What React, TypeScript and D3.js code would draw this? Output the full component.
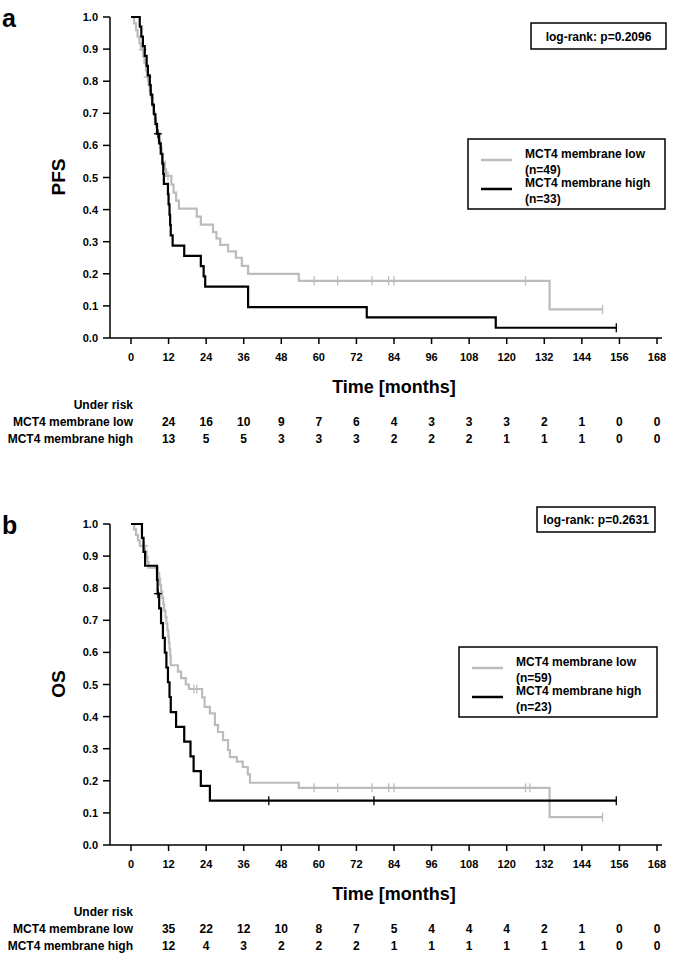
import React from "react";
import * as d3 from "d3";

// ---------- data ----------
const xTicks = [0, 12, 24, 36, 48, 60, 72, 84, 96, 108, 120, 132, 144, 156, 168];
const yTicks = [0, 0.1, 0.2, 0.3, 0.4, 0.5, 0.6, 0.7, 0.8, 0.9, 1.0];
const riskTimes = [12, 24, 36, 48, 60, 72, 84, 96, 108, 120, 132, 144, 156, 168];

// PFS (panel a)
const pfsLowSteps: [number, number][] = [
  [0, 1], [1.0, 0.98], [1.6, 0.959], [2.1, 0.939], [2.7, 0.918], [3.2, 0.898], [3.9, 0.877],
  [4.3, 0.856], [4.8, 0.834], [5.2, 0.813], [5.6, 0.791], [6.0, 0.769], [6.4, 0.747],
  [6.8, 0.725], [7.2, 0.703], [7.6, 0.681], [8.0, 0.659], [8.4, 0.637], [8.8, 0.615],
  [9.3, 0.593], [9.8, 0.571], [10.2, 0.549], [10.8, 0.527], [11.2, 0.505], [12.9, 0.478],
  [13.6, 0.453], [14.4, 0.428], [15.3, 0.403], [21.0, 0.378], [22.3, 0.353], [26.2, 0.33],
  [27.3, 0.31], [28.5, 0.29], [31.0, 0.27], [33.5, 0.25], [35.4, 0.225], [37.4, 0.2],
  [53.6, 0.178], [133.7, 0.089],
];
const pfsLowCensor = [3.8, 5.3, 11.8, 58.5, 66, 77, 82.3, 84, 126, 150.6];
const pfsHighSteps: [number, number][] = [
  [0, 1], [2.8, 0.97], [3.3, 0.939], [3.8, 0.909], [4.4, 0.879], [5.0, 0.848], [5.4, 0.818],
  [6.0, 0.788], [6.3, 0.758], [6.8, 0.727], [7.3, 0.697], [7.8, 0.667], [8.3, 0.636],
  [9.0, 0.606], [9.5, 0.574], [10.0, 0.543], [10.3, 0.511], [10.5, 0.48], [11.8, 0.448],
  [12.0, 0.416], [12.3, 0.384], [12.5, 0.352], [12.7, 0.32], [13.3, 0.288], [17.0, 0.256],
  [22.3, 0.224], [23.2, 0.192], [23.7, 0.16], [37.4, 0.096], [75.3, 0.064], [116.5, 0.032],
];
const pfsHighCensor = [8.6, 155];

// OS (panel b)
const osLowSteps: [number, number][] = [
  [0, 1], [1.0, 0.983], [1.6, 0.966], [2.2, 0.949], [2.8, 0.932], [4.5, 0.915], [5.0, 0.898],
  [5.3, 0.881], [5.6, 0.864], [8.6, 0.847], [9.0, 0.83], [9.3, 0.81], [9.6, 0.79], [10.0, 0.77],
  [10.3, 0.75], [10.6, 0.73], [11.0, 0.71], [11.3, 0.69], [11.6, 0.67], [11.9, 0.65],
  [12.1, 0.63], [12.3, 0.61], [12.5, 0.59], [12.7, 0.56], [15.0, 0.54], [16.0, 0.52],
  [17.5, 0.5], [18.5, 0.486], [22.7, 0.46], [23.5, 0.43], [25.2, 0.41], [26.8, 0.374],
  [27.8, 0.352], [29.4, 0.327], [31.0, 0.296], [31.6, 0.274], [33.8, 0.26], [35.7, 0.243],
  [37.3, 0.22], [38.0, 0.194], [53.6, 0.178], [133.7, 0.087],
];
const osLowCensor = [4.3, 20.1, 21.0, 58.5, 66, 77, 82.3, 84, 126, 127.4, 150.6];
const osHighSteps: [number, number][] = [
  [0, 1], [3.5, 0.957], [4.0, 0.913], [4.5, 0.87], [8.3, 0.826], [8.5, 0.783], [9.0, 0.737],
  [9.6, 0.691], [10.2, 0.645], [10.8, 0.599], [11.3, 0.553], [11.8, 0.507], [12.3, 0.461],
  [12.7, 0.414], [14.4, 0.368], [17.0, 0.322], [19.0, 0.276], [20.0, 0.23], [22.3, 0.184],
  [25.2, 0.138],
];
const osHighCensor = [8.6, 44, 77.6, 155];

const pfsRiskLow = [24, 16, 10, 9, 7, 6, 4, 3, 3, 3, 2, 1, 0, 0];
const pfsRiskHigh = [13, 5, 5, 3, 3, 3, 2, 2, 2, 1, 1, 1, 0, 0];
const osRiskLow = [35, 22, 12, 10, 8, 7, 5, 4, 4, 4, 2, 1, 0, 0];
const osRiskHigh = [12, 4, 3, 2, 2, 2, 1, 1, 1, 1, 1, 1, 0, 0];

const groupLabels = ["MCT4 membrane low", "MCT4 membrane high"];

// ---------- drawing ----------
const FONT = "'Liberation Sans', Arial, sans-serif";
const GRAY = "#bcbcbc";
const BLACK = "#000";

function survAt(steps: [number, number][], t: number) {
  let s = 1;
  for (const [tt, ss] of steps) if (tt <= t) s = ss;
  return s;
}

type PanelProps = {
  top: number;
  letter: string;
  yLabel: string;
  pText: string;
  lowSteps: [number, number][];
  lowCensor: number[];
  highSteps: [number, number][];
  highCensor: number[];
  riskLow: number[];
  riskHigh: number[];
  nLow: number;
  nHigh: number;
  pBox: [number, number, number, number];
  legBox: [number, number, number, number];
};

function Panel(p: PanelProps) {
  const x = d3.scaleLinear().domain([0, 168]).range([131, 657]);
  const y = d3.scaleLinear().domain([0, 1]).range([p.top + 321, p.top]);
  const axisX = 110;
  const axisY = p.top + 321;
  const line = d3
    .line<[number, number]>()
    .x((d) => x(d[0]))
    .y((d) => y(d[1]))
    .curve(d3.curveStepAfter);

  const curve = (steps: [number, number][], censor: number[], color: string) => {
    const end = Math.max(...censor, steps[steps.length - 1][0]);
    const pts = [...steps, [end, steps[steps.length - 1][1]] as [number, number]];
    return (
      <g>
        <path d={line(pts) || ""} fill="none" stroke={color} strokeWidth={2.2} />
        {censor.map((c, i) => {
          const cx = x(c);
          const cy = y(survAt(steps, c));
          return (
            <g key={i} stroke={color} strokeWidth={1.3}>
              <line x1={cx} x2={cx} y1={cy - 4.5} y2={cy + 4.5} />
              {c < 20 ? <line x1={cx - 4} x2={cx + 4} y1={cy} y2={cy} /> : null}
            </g>
          );
        })}
      </g>
    );
  };

  const [pbx, pby, pbw, pbh] = p.pBox;
  const [lbx, lby, lbw, lbh] = p.legBox;

  return (
    <g fontFamily={FONT} fontWeight="bold">
      <text x={2} y={p.top + 10} fontSize={25}>{p.letter}</text>
      {/* axes */}
      <line x1={axisX} x2={axisX} y1={p.top} y2={axisY} stroke={BLACK} strokeWidth={1.5} />
      <line x1={axisX} x2={662} y1={axisY} y2={axisY} stroke={BLACK} strokeWidth={1.5} />
      {yTicks.map((t) => (
        <g key={t}>
          <line x1={axisX - 7} x2={axisX} y1={y(t)} y2={y(t)} stroke={BLACK} strokeWidth={1.5} />
          <text x={98} y={y(t) + 4} fontSize={11} textAnchor="end">{t.toFixed(1)}</text>
        </g>
      ))}
      {xTicks.map((t) => (
        <g key={t}>
          <line x1={x(t)} x2={x(t)} y1={axisY} y2={axisY + 6} stroke={BLACK} strokeWidth={1.5} />
          <text x={x(t)} y={axisY + 23} fontSize={11} textAnchor="middle">{t}</text>
        </g>
      ))}
      <text
        transform={`translate(${65},${p.top + 160}) rotate(-90)`}
        fontSize={19}
        textAnchor="middle"
      >
        {p.yLabel}
      </text>
      <text x={x(84)} y={axisY + 55} fontSize={18} textAnchor="middle">Time [months]</text>

      {/* curves */}
      {curve(p.lowSteps, p.lowCensor, GRAY)}
      {curve(p.highSteps, p.highCensor, BLACK)}

      {/* log-rank box */}
      <rect x={pbx} y={pby} width={pbw} height={pbh} fill="#fff" stroke={BLACK} strokeWidth={1.5} />
      <text x={pbx + pbw / 2} y={pby + pbh / 2 + 4.5} fontSize={12} textAnchor="middle">{p.pText}</text>

      {/* legend */}
      <rect x={lbx} y={lby} width={lbw} height={lbh} fill="#fff" stroke={BLACK} strokeWidth={1.5} />
      <line x1={lbx + 13} x2={lbx + 44} y1={lby + 21} y2={lby + 21} stroke={GRAY} strokeWidth={2.5} />
      <line x1={lbx + 13} x2={lbx + 44} y1={lby + 50} y2={lby + 50} stroke={BLACK} strokeWidth={2.5} />
      <text x={lbx + 57} y={lby + 19} fontSize={12}>{groupLabels[0]}</text>
      <text x={lbx + 57} y={lby + 35} fontSize={12}>{`(n=${p.nLow})`}</text>
      <text x={lbx + 57} y={lby + 48} fontSize={12}>{groupLabels[1]}</text>
      <text x={lbx + 57} y={lby + 64} fontSize={12}>{`(n=${p.nHigh})`}</text>

      {/* risk table */}
      <text x={133} y={axisY + 71} fontSize={12} textAnchor="end">Under risk</text>
      <text x={133} y={axisY + 88} fontSize={12} textAnchor="end">{groupLabels[0]}</text>
      <text x={133} y={axisY + 105} fontSize={12} textAnchor="end">{groupLabels[1]}</text>
      {riskTimes.map((t, i) => (
        <g key={t}>
          <text x={x(t)} y={axisY + 88} fontSize={12} textAnchor="middle">{p.riskLow[i]}</text>
          <text x={x(t)} y={axisY + 105} fontSize={12} textAnchor="middle">{p.riskHigh[i]}</text>
        </g>
      ))}
    </g>
  );
}

export default function App() {
  return (
    <svg
      width={677}
      height={954}
      style={{ position: "absolute", left: 0, top: 0, background: "#fff" }}
    >
      <rect width={677} height={954} fill="#fff" />
      <Panel
        top={17}
        letter="a"
        yLabel="PFS"
        pText="log-rank: p=0.2096"
        lowSteps={pfsLowSteps}
        lowCensor={pfsLowCensor}
        highSteps={pfsHighSteps}
        highCensor={pfsHighCensor}
        riskLow={pfsRiskLow}
        riskHigh={pfsRiskHigh}
        nLow={49}
        nHigh={33}
        pBox={[531, 23, 135, 26]}
        legBox={[468, 139, 197, 70]}
      />
      <Panel
        top={524}
        letter="b"
        yLabel="OS"
        pText="log-rank: p=0.2631"
        lowSteps={osLowSteps}
        lowCensor={osLowCensor}
        highSteps={osHighSteps}
        highCensor={osHighCensor}
        riskLow={osRiskLow}
        riskHigh={osRiskHigh}
        nLow={59}
        nHigh={23}
        pBox={[537, 507, 118, 25]}
        legBox={[459, 647, 198, 70]}
      />
    </svg>
  );
}
